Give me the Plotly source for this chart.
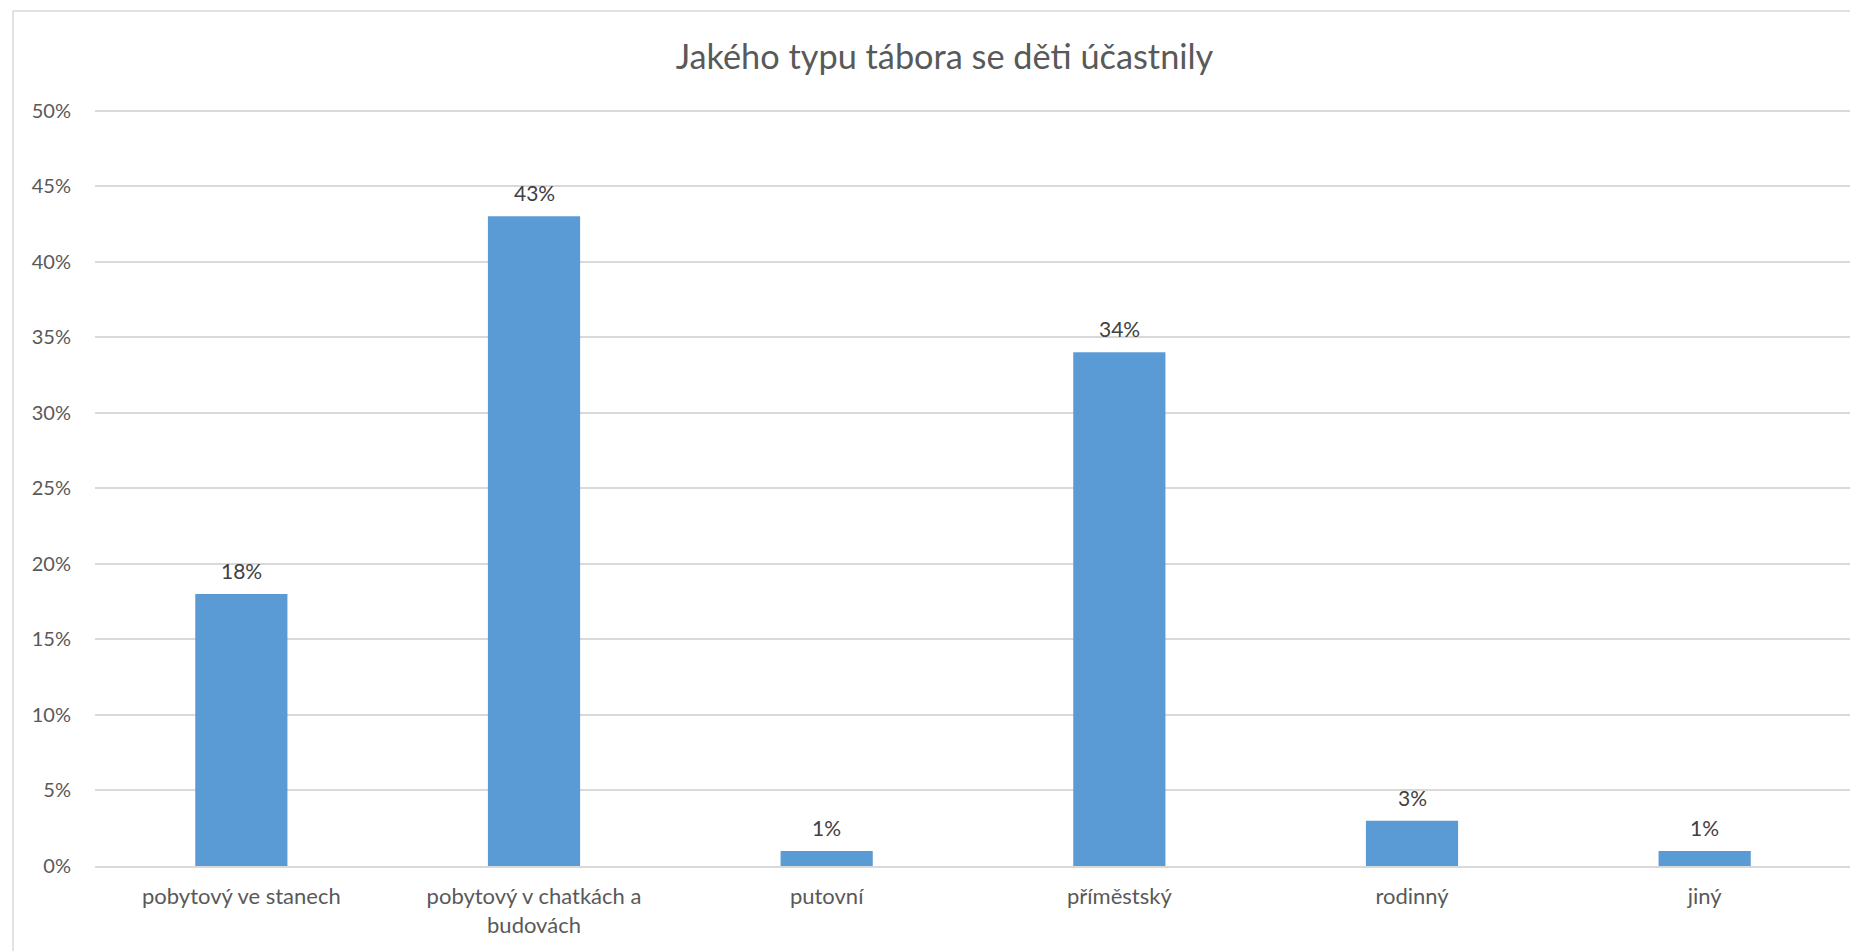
import plotly.graph_objects as go

categories = ["pobytový ve stanech", "pobytový v chatkách a<br>budovách", "putovní",
              "příměstský", "rodinný", "jiný"]
values = [0.18, 0.43, 0.01, 0.34, 0.03, 0.01]
labels = ["18%", "43%", "1%", "34%", "3%", "1%"]
tick_vals = [0, 0.05, 0.10, 0.15, 0.20, 0.25, 0.30, 0.35, 0.40, 0.45, 0.50]
tick_text = ["0%", "5%", "10%", "15%", "20%", "25%", "30%", "35%", "40%", "45%", "50%"]

FONT = "Lato, Open Sans, sans-serif"
W, H = 1850, 943          # page body adds an 8px offset
L, R, T, B = 87, 1843, 101, 858
YMAX = 0.501

fig = go.Figure()
fig.add_trace(go.Bar(x=categories, y=values, marker=dict(color="#5B9BD5", line=dict(width=0)),
                     width=0.315, hoverinfo="skip"))

for c, v, t in zip(categories, values, labels):
    fig.add_annotation(x=c, y=v, text=t, showarrow=False, yanchor="bottom", yshift=9,
                       font=dict(family=FONT, size=21, color="#404040"))

# outer chart border (top and left visible)
fig.add_shape(type="rect", xref="paper", yref="paper",
              x0=(5 - L) / (R - L), x1=(W + 20 - L) / (R - L),
              y0=(B - (H + 20)) / (B - T), y1=(B - 3) / (B - T),
              line=dict(color="#D9D9D9", width=1.5), layer="below")

fig.update_layout(
    width=W, height=H,
    margin=dict(l=L, r=W - R, t=T, b=H - B, pad=0),
    paper_bgcolor="white", plot_bgcolor="white",
    title=dict(text="Jakého typu tábora se děti účastnily", x=936.5 / W, xanchor="center",
               y=1 - 49 / H, yanchor="middle",
               font=dict(family=FONT, size=34.3, color="#595959")),
    showlegend=False,
    bargap=0.685,
)
fig.update_xaxes(showgrid=False, showline=True, linecolor="#D9D9D9", linewidth=2,
                 ticks="", tickfont=dict(family=FONT, size=22, color="#595959"),
                 ticklabelstandoff=10)
fig.update_yaxes(range=[0, YMAX], tickvals=tick_vals, ticktext=tick_text,
                 showgrid=True, gridcolor="#D9D9D9", gridwidth=1.5, zeroline=False,
                 showline=False, ticks="",
                 tickfont=dict(family=FONT, size=20, color="#595959"),
                 ticklabelstandoff=23)

fig.write_html("out.html")
